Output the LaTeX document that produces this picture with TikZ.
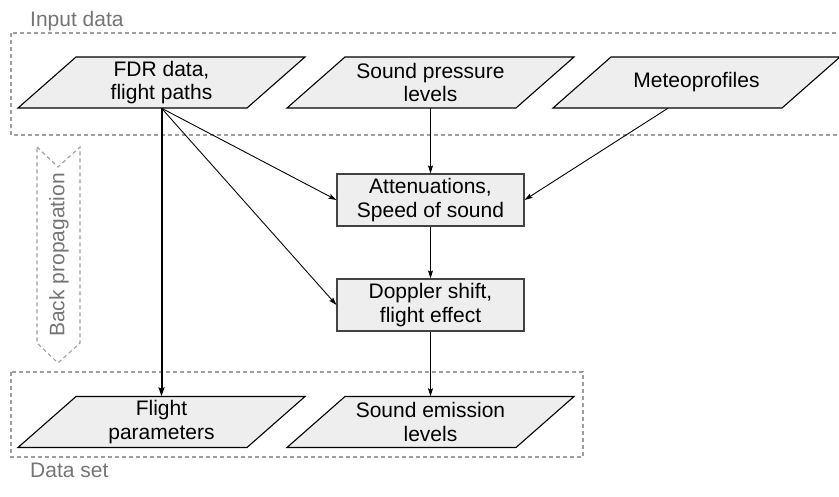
\documentclass[tikz,border=0pt]{standalone}
\usepackage{fontspec}
\setmainfont{Liberation Sans}
\usetikzlibrary{arrows.meta,calc}
\definecolor{dgray}{HTML}{9E9E9E}
\definecolor{lgray}{HTML}{757575}
\definecolor{shfill}{HTML}{EEEEEE}
\definecolor{boxline}{HTML}{424242}
\newcommand\mypara[4]{%
  \filldraw[parashape] (#2-143.5,#3+25.5) -- (#2-85.5,#3-25.5) -- (#2+143.5,#3-25.5) -- (#2+85.5,#3+25.5) -- cycle;
  \node[paratext] (#1) at (#2,#3) {#4};}
\tikzset{
  bodyfont/.style={font=\fontsize{21pt}{23.5pt}\selectfont},
  parashape/.style={fill=shfill, draw=black, line width=1.1pt},
  paratext/.style={bodyfont, minimum width=171pt, minimum height=51pt, inner sep=0pt, align=center},
  procbox/.style={bodyfont, draw=boxline, fill=shfill, line width=1.1pt, minimum width=187pt, minimum height=52pt, inner sep=0pt, align=center},
  groupbox/.style={draw=dgray, dash pattern=on 4pt off 3pt, line width=1.1pt},
  grouplabel/.style={text=lgray, font=\fontsize{21pt}{23.5pt}\selectfont, inner sep=0pt},
  conn/.style={draw=black, line width=0.9pt, -{Stealth[length=8pt,width=5pt,inset=1.5pt]}},
  thickconn/.style={draw=black, line width=2pt, -{Stealth[length=9pt,width=6pt,inset=1.5pt]}},
}
\begin{document}
\begin{tikzpicture}[x=1pt,y=-1pt]
\useasboundingbox (0,0) rectangle (839,497);
% group boxes
\draw[groupbox] (11,33) rectangle (850,135);
\draw[groupbox] (11,372) rectangle (583,457);
\node[grouplabel, anchor=base west] (lin) at (30,27) {Input data};
\node[grouplabel, anchor=base west] (lds) at (30,477) {Data set};
% back propagation
\draw[groupbox] (37,147) -- (58,167) -- (80,147) -- (80,343) -- (58,363) -- (37,343) -- cycle;
\node[grouplabel, rotate=90] (bp) at (59,255) {Back propagation};
% input data
\mypara{fdr}{161.5}{82.5}{FDR data,\\flight paths}
\mypara{spl}{430.5}{82.5}{Sound pressure\\levels}
\mypara{met}{696.5}{82.5}{Meteoprofiles}
% processing
\node[procbox] (att) at (430.5,200) {Attenuations,\\Speed of sound};
\node[procbox] (dop) at (430.5,305) {Doppler shift,\\flight effect};
% data set
\mypara{fpar}{161.5}{422}{Flight\\parameters}
\mypara{sel}{430.5}{422}{Sound emission\\levels}
% connectors
\draw[thickconn] (fdr.south) -- (fpar.north);
\draw[conn] (fdr.south) -- (att.west);
\draw[conn] (fdr.south) -- (dop.west);
\draw[conn] (spl.south) -- (att.north);
\draw[conn] ([xshift=-28.5pt]met.south) -- (att.east);
\draw[conn] (att.south) -- (dop.north);
\draw[conn] (dop.south) -- (sel.north);
\end{tikzpicture}
\end{document}
